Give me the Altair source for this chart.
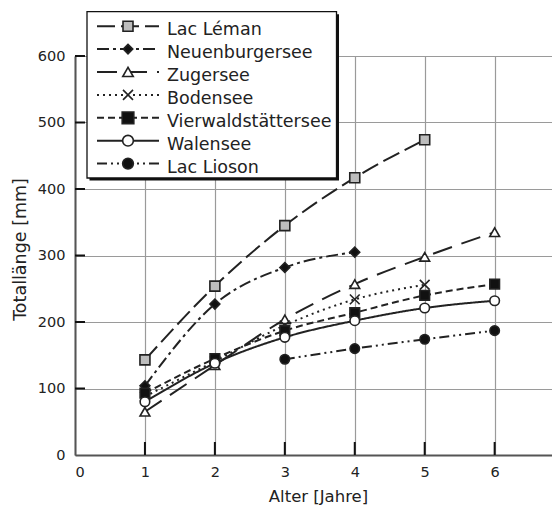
import altair as alt
import pandas as pd

# ---------------- data ----------------
names = ["Lac Léman", "Neuenburgersee", "Zugersee", "Bodensee",
         "Vierwaldstättersee", "Walensee", "Lac Lioson"]

leman_age = [1, 2, 3, 4, 5]
leman_len = [143, 254, 345, 417, 474]
neuen_age = [1, 2, 3, 4]
neuen_len = [104, 227, 282, 305]
zug_age = [1, 2, 3, 4, 5, 6]
zug_len = [65, 135, 204, 257, 298, 335]
boden_age = [1, 2, 3, 4, 5]
boden_len = [88, 141, 195, 234, 256]
vier_age = [1, 2, 3, 4, 5, 6]
vier_len = [93, 145, 187, 214, 240, 257]
walen_age = [1, 2, 3, 4, 5, 6]
walen_len = [80, 138, 177, 202, 221, 232]
lioson_age = [3, 4, 5, 6]
lioson_len = [144, 160, 174, 187]

x_ticks = [0, 1, 2, 3, 4, 5, 6]
y_ticks = [0, 100, 200, 300, 400, 500, 600]

series_ages = [leman_age, neuen_age, zug_age, boden_age, vier_age, walen_age, lioson_age]
series_lens = [leman_len, neuen_len, zug_len, boden_len, vier_len, walen_len, lioson_len]

rows = []
for n, a_list, l_list in zip(names, series_ages, series_lens):
    for a, l in zip(a_list, l_list):
        rows.append({"series": n, "age": a, "len": l})
df = pd.DataFrame(rows)

# ---------------- styles ----------------
dashes = [[18, 6], [12, 4, 3, 4], [20, 10], [2, 4], [7, 4], [1, 0], [10, 4, 2, 4, 2, 4]]
xpath = "M-1,-1L1,1M-1,1L1,-1"
shapes = ["square", "diamond", "triangle-up", xpath, "square", "circle", "circle"]
fills = ["#bdbdbd", "#111111", "white", "transparent", "#111111", "white", "#111111"]
sizes = [100, 90, 110, 100, 135, 115, 115]

W, H = 477, 399
XMAX = 6.82
FONT = "DejaVu Sans"
INK = "#222222"

xscale = alt.Scale(domain=[0, XMAX], nice=False, zero=False)
yscale = alt.Scale(domain=[0, 600], nice=False)

dash_enc = alt.StrokeDash("series:N", scale=alt.Scale(domain=names, range=dashes), legend=None)
shape_enc = alt.Shape("series:N", scale=alt.Scale(domain=names, range=shapes), legend=None)
fill_enc = alt.Fill("series:N", scale=alt.Scale(domain=names, range=fills), legend=None)
size_enc = alt.Size("series:N", scale=alt.Scale(domain=names, range=sizes), legend=None)

x_enc = alt.X("age:Q", scale=xscale,
              axis=alt.Axis(values=x_ticks, format="d", title="Alter [Jahre]", grid=True,
                            ticks=False, tickSize=0, labelPadding=10,
                            titleX=243, titleY=46, titleBaseline="alphabetic",
                            titleAnchor="middle", titleFontSize=16.5))
y_enc = alt.Y("len:Q", scale=yscale,
              axis=alt.Axis(values=y_ticks, format="d", title="Totallänge [mm]", grid=True,
                            ticks=False, tickSize=0, labelPadding=10,
                            titleX=-55, titleY=193, titleBaseline="middle",
                            titleAnchor="middle"))

base = alt.Chart(df)

lines = base.mark_line(interpolate="monotone", color=INK, strokeWidth=2).encode(
    x=x_enc, y=y_enc, strokeDash=dash_enc, detail="series:N")

points = base.mark_point(stroke=INK, strokeWidth=1.6, opacity=1, fillOpacity=1).encode(
    x="age:Q", y="len:Q", shape=shape_enc, fill=fill_enc, size=size_enc)

# inward ticks
xt = alt.Chart(pd.DataFrame({"age": x_ticks[1:]})).mark_rule(color="#111", strokeWidth=2).encode(
    x="age:Q", y=alt.value(H), y2=alt.value(H - 13))
yt = alt.Chart(pd.DataFrame({"len": y_ticks[1:]})).mark_rule(color="#111", strokeWidth=2).encode(
    y="len:Q", x=alt.value(0), x2=alt.value(10))

# ---------------- legend (custom box) ----------------
one = pd.DataFrame({"k": [0]})
shadow = alt.Chart(one).mark_rect(color="#111").encode(
    x=alt.value(14.5), x2=alt.value(264), y=alt.value(-41.8), y2=alt.value(124.5))
box = alt.Chart(one).mark_rect(fill="white", stroke="#111", strokeWidth=1.3).encode(
    x=alt.value(12), x2=alt.value(261.5), y=alt.value(-44.3), y2=alt.value(122))

leg_df = pd.DataFrame({"series": names})
legend_layers = [shadow, box]
for i, n in enumerate(names):
    ry = -29.8 + i * 22.9
    sub = alt.Chart(leg_df).transform_filter(alt.datum.series == n)
    legend_layers.append(sub.mark_rule(color=INK, strokeWidth=2, strokeDash=dashes[i]).encode(
        x=alt.value(22), x2=alt.value(84), y=alt.value(ry)))
    legend_layers.append(sub.mark_point(stroke=INK, strokeWidth=1.6, opacity=1, fillOpacity=1,
                                        shape=shapes[i], fill=fills[i], size=sizes[i]).encode(
        x=alt.value(53), y=alt.value(ry)))
    legend_layers.append(sub.mark_text(align="left", baseline="alphabetic", font=FONT,
                                       fontSize=17.5, color=INK).encode(
        x=alt.value(92), y=alt.value(ry + 9), text="series:N"))

chart = alt.layer(lines, points, xt, yt, *legend_layers).properties(
    width=W, height=H,
    autosize=alt.AutoSizeParams(type="none"),
    padding={"left": 67, "top": 48, "right": 0, "bottom": 51},
).configure_view(stroke=None).configure_axis(
    labelFont=FONT, titleFont=FONT, labelFontSize=14.5, titleFontSize=17.5,
    titleFontWeight="normal", labelColor=INK, titleColor=INK,
    domainColor="#555", domainWidth=2, gridColor="#9a9a9a", gridWidth=1.2,
)

chart.save("out.html", embed_options={"renderer": "svg", "actions": False})
